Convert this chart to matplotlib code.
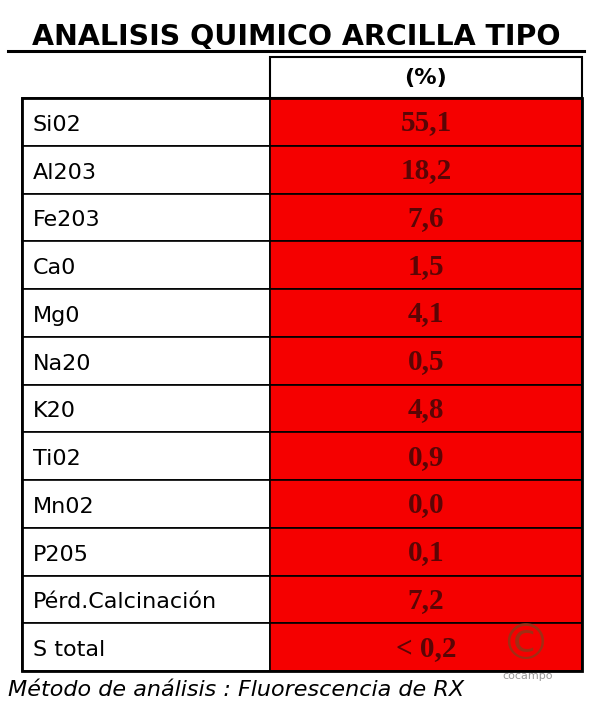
import matplotlib.pyplot as plt
from matplotlib.patches import Rectangle

componentes = ['Si02', 'Al203', 'Fe203', 'Ca0', 'Mg0', 'Na20', 'K20', 'Ti02',
               'Mn02', 'P205', 'Pérd.Calcinación', 'S total']
valores = ['55,1', '18,2', '7,6', '1,5', '4,1', '0,5', '4,8', '0,9',
           '0,0', '0,1', '7,2', '< 0,2']
titulo = 'ANALISIS QUIMICO ARCILLA TIPO'
cabecera = '(%)'
nota = 'Método de análisis : Fluorescencia de RX'

fig = plt.figure(figsize=(6, 7.1), dpi=100)
ax = fig.add_axes([0, 0, 1, 1])
ax.set_xlim(0, 600)
ax.set_ylim(710, 0)
ax.axis('off')

x0, x1, x2 = 22, 270, 582
top, h = 98, 47.75

# titulo subrayado
ax.text(296, 37, titulo, ha='center', va='center', fontsize=20.5,
        fontweight='bold', family='DejaVu Sans', color='black')
ax.plot([8, 584], [51, 51], color='black', lw=2.2)

# cabecera
ax.add_patch(Rectangle((x1, 57), x2 - x1, top - 57, fc='white', ec='black', lw=1.5))
ax.text((x1 + x2) / 2, 78, cabecera, ha='center', va='center', fontsize=16,
        fontweight='bold', color='black')

for i, (c, v) in enumerate(zip(componentes, valores)):
    y = top + i * h
    ax.add_patch(Rectangle((x0, y), x1 - x0, h, fc='white', ec='black', lw=1.2))
    ax.add_patch(Rectangle((x1, y), x2 - x1, h, fc='#f50000', ec='black', lw=1.2))
    ax.text(x0 + 11, y + h / 2 + 3, c, ha='left', va='center', fontsize=16,
            family='DejaVu Sans', color='black')
    ax.text((x1 + x2) / 2, y + h / 2 + 1, v, ha='center', va='center', fontsize=21,
            fontweight='bold', family='Liberation Serif', color='#5a0505')

# marco exterior
ax.add_patch(Rectangle((x0, top), x2 - x0, h * len(componentes), fc='none', ec='black', lw=2))

# marca de agua
ax.text(525, 645, '©', ha='center', va='center', fontsize=36, color='#8a3a1a', alpha=0.8)
ax.text(528, 676, 'cocampo', ha='center', va='center', fontsize=8, color='#999999')

ax.text(8, 690, nota, ha='left', va='center', fontsize=16, style='italic',
        family='DejaVu Sans', color='black')

fig.savefig('out.png', dpi=100, facecolor='white')
